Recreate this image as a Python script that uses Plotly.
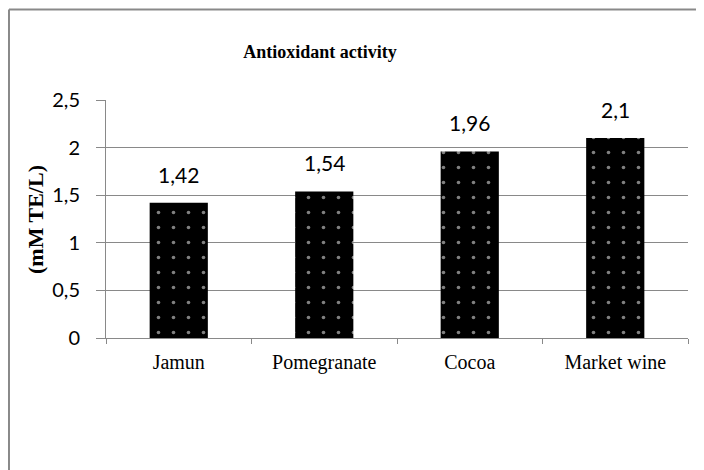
import plotly.graph_objects as go

categories = ["Jamun", "Pomegranate", "Cocoa", "Market wine"]
values = [1.42, 1.54, 1.96, 2.1]
value_labels = ["1,42", "1,54", "1,96", "2,1"]
y_ticks = [0, 0.5, 1, 1.5, 2, 2.5]
y_tick_labels = ["0", "0,5", "1", "1,5", "2", "2,5"]

grid_color = "#898989"
serif = "Liberation Serif, Times New Roman, serif"
sans = "Lato, Carlito, Calibri, sans-serif"

fig = go.Figure()

fig.add_trace(go.Bar(
    x=categories,
    y=values,
    marker=dict(
        color="black",
        line=dict(width=0),
        pattern=dict(shape=".", fgcolor="white", bgcolor="black", size=15, solidity=0.045),
    ),
    showlegend=False,
))

# value labels above each bar
for cat, val, lab in zip(categories, values, value_labels):
    fig.add_annotation(
        x=cat, y=val, text=lab, showarrow=False,
        yanchor="bottom", yshift=14,
        font=dict(family=sans, size=21, color="black"),
    )

# y axis title overlapping tick labels, like the original
fig.add_annotation(
    x=-0.122, y=0.5, xref="paper", yref="paper",
    text="<b>(mM TE/L)</b>", textangle=-90, showarrow=False,
    xanchor="center", yanchor="middle",
    font=dict(family=serif, size=22, color="black"),
)

# outer chart border: only left and top edges are visible in the original
fig.add_shape(
    type="line", xref="paper", yref="paper",
    x0=-0.1667, y0=-0.8, x1=-0.1667, y1=1.38,
    line=dict(color=grid_color, width=2),
)
fig.add_shape(
    type="line", xref="paper", yref="paper",
    x0=-0.1667, y0=1.38, x1=1.03, y1=1.38,
    line=dict(color=grid_color, width=2),
)

fig.update_layout(
    width=696,
    height=462,
    margin=dict(l=98, r=16, t=92, b=132),
    paper_bgcolor="white",
    plot_bgcolor="white",
    bargap=0.6,
    title=dict(
        text="<b>Antioxidant activity</b>",
        x=312 / 696, xanchor="center",
        y=1 - 44 / 462, yanchor="middle",
        font=dict(family=serif, size=18, color="black"),
    ),
)

fig.update_yaxes(
    range=[0, 2.5],
    tickvals=y_ticks,
    ticktext=y_tick_labels,
    showgrid=True,
    gridcolor=grid_color,
    gridwidth=1,
    showline=True,
    linecolor=grid_color,
    linewidth=1,
    ticks="outside",
    ticklen=9,
    tickcolor=grid_color,
    ticklabelstandoff=12,
    zeroline=False,
    tickfont=dict(family=sans, size=20, color="black"),
)

fig.update_xaxes(
    showline=True,
    linecolor=grid_color,
    linewidth=1,
    ticks="outside",
    tickson="boundaries",
    ticklen=5,
    tickcolor=grid_color,
    ticklabelstandoff=6,
    showgrid=False,
    tickfont=dict(family=serif, size=20, color="black"),
)

fig.write_html("out.html")
